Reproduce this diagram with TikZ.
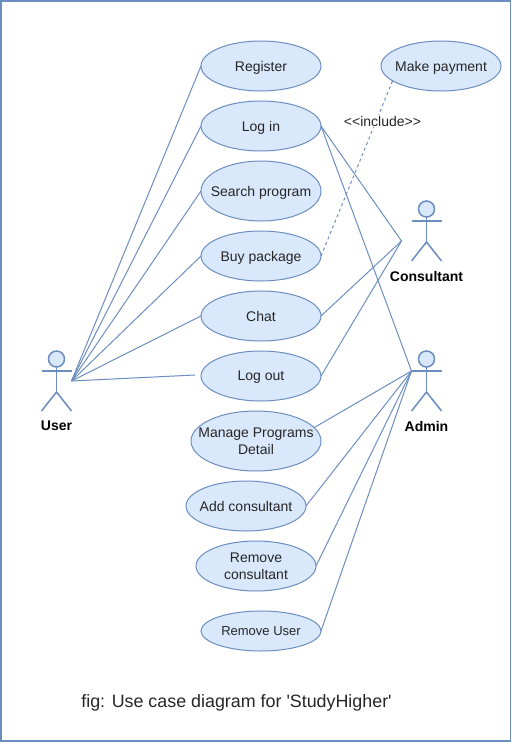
\documentclass[tikz,border=0pt]{standalone}
\usepackage{fontspec}
\setmainfont[Ligatures=TeXOff]{Liberation Sans}
\usetikzlibrary{shapes.geometric}

\definecolor{ucline}{HTML}{6C8EBF}
\definecolor{ucfill}{HTML}{DAE8FC}
\def\txtbase{\fontsize{10.5}{12.6}\selectfont}
\def\txtsmall{\fontsize{9.75}{11.7}\selectfont}
\def\txtcap{\fontsize{13.4}{16.2}\selectfont}

\tikzset{
  usecase/.style={ellipse, draw=ucline, fill=ucfill, line width=.75pt, inner sep=0pt, outer sep=0pt},
  link/.style={draw=ucline, line width=.75pt},
  stick/.style={draw=ucline, line width=1.15pt},
  every label/.style={align=center, inner sep=0pt, text depth=0pt, text=black!85, font=\txtbase}
}

\begin{document}
\begin{tikzpicture}[x=.75pt, y=-.75pt]
      \useasboundingbox (0,0) rectangle (512,742);

      % Marco
      \draw[ucline, line width=1.2pt] (1,1) rectangle (510.5,741);

      % Casos de uso
      \foreach \nme/\x/\y/\rx/\ry/\txt in {
        register/261/66/60/25/{Register},
        login/261/126/60/25/{Log in},
        search/261/191/60/30/{Search program},
        buy/261/256/60/25/{Buy package},
        chat/261/316/60/25/{Chat},
        logout/261/376/60/25/{Log out},
        manage/256/441/65/30/{Manage Programs\\Detail},
        addcons/246/506/60/25/{Add consultant},
        remcons/256/566/60/25/{Remove\\consultant},
        remuser/261/631/60/20/{\txtsmall Remove User},
        payment/441/66/60/25/{Make payment}} {
        \node[usecase, minimum width=1.5*\rx pt, minimum height=1.5*\ry pt, label={center:\txt}] (\nme) at (\x,\y) {};
      }

      % Actores
      \foreach \nme/\x/\y/\txt in {user/56.5/359/User, consultant/426.5/209/Consultant, admin/426.5/359/Admin} {
        \draw[stick, fill=ucfill] (\x,\y) circle (8);
        \draw[stick] (\x-15,\y+12) -- (\x+15,\y+12);
        \draw[stick] (\x,\y+8) -- (\x,\y+33);
        \draw[stick] (\x-15,\y+52) -- (\x,\y+33) -- (\x+15,\y+52);
        \node[font=\txtbase\bfseries, inner sep=0pt] (\nme) at (\x,\y+67) {\txt};
      }
      \coordinate (userend) at (71.5,381);
      \coordinate (consend) at (401.5,241);
      \coordinate (adminend) at (411.5,371);
      \coordinate (logoutend) at (195,375);

      % Lineas de User
      \foreach \uc in {register,login,search,buy,chat} {
        \draw[link] (userend) -- (\uc.west);
      }
      \draw[link] (userend) -- (logoutend);

      % Lineas de Consultant
      \foreach \uc in {login,chat,logout} {
        \draw[link] (\uc.east) -- (consend);
      }

      % Lineas de Admin
      \foreach \uc in {login.east,manage.13,addcons.east,remcons.east,remuser.east} {
        \draw[link] (\uc) -- (adminend);
      }

      % Include
      \draw[link, dash pattern=on 2.25pt off 2.25pt] (buy.east) -- (payment.197);
      \node[fill=white, inner sep=1pt, font=\txtbase, text=black!85] (incl) at (382.5,121) {<<include>>};

      \node[font=\txtcap, text=black!85, inner sep=0pt, text depth=0pt] (caption) at (236.5,701) {fig: Use case diagram for 'StudyHigher'};
    \end{tikzpicture}
\end{document}
